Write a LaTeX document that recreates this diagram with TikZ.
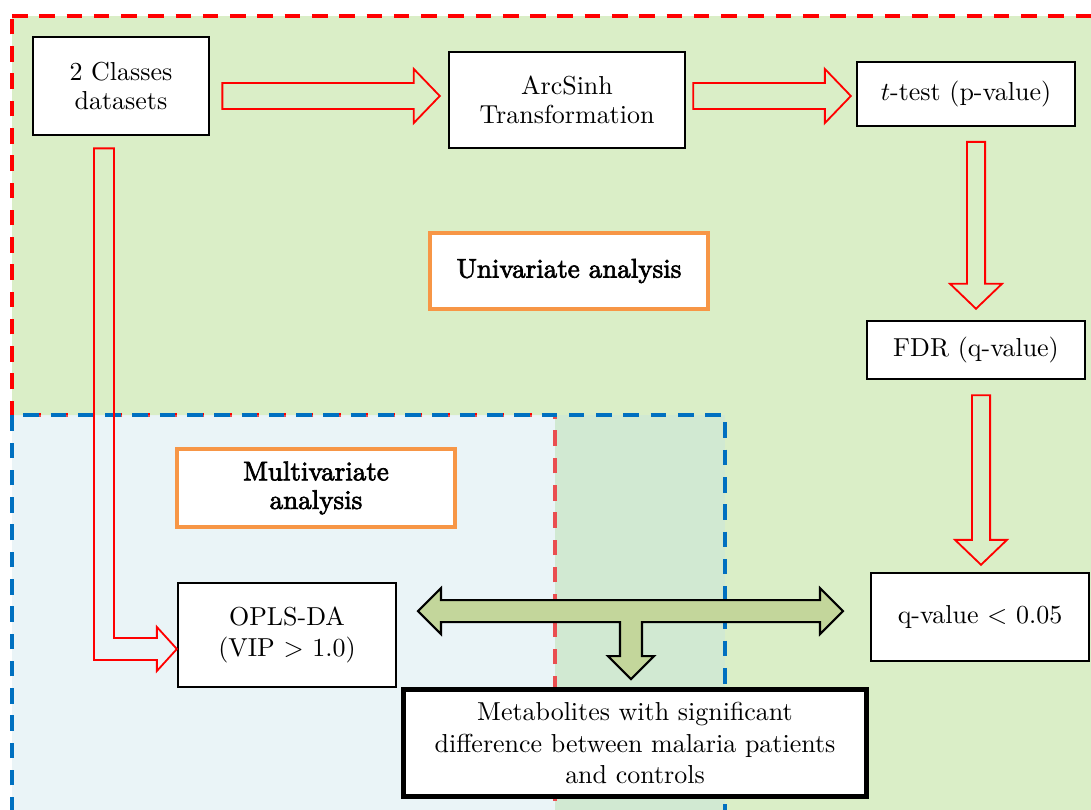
\documentclass[tikz,border=0pt]{standalone}
\usepackage{fontspec}
\newfontfamily\titlefont[Extension=.otf, FakeBold=2.6]{lmroman10-regular}
\usetikzlibrary{calc,positioning}
\definecolor{univgreen}{RGB}{218,238,199}
\definecolor{multiblue}{RGB}{195,224,232}
\definecolor{framered}{RGB}{255,0,0}
\definecolor{frameblue}{RGB}{0,112,192}
\definecolor{labelorange}{RGB}{247,150,70}
\definecolor{arrowolive}{RGB}{195,214,155}

\tikzset{
  stepbox/.style={draw=black, line width=0.8pt, fill=white, align=center, inner sep=2pt},
  titlebox/.style={draw=labelorange, line width=1.6pt, fill=white, align=center,
    font=\titlefont\fontsize{10.4}{12}\selectfont},
  hollow/.style={draw=framered, line width=0.7pt, line join=miter},
  regionline/.style={line width=1.2pt, dash pattern=on 6pt off 4.5pt},
}

% hollow block arrows from tail #1 to tip #2
\newcommand{\hollowright}[2]{%
  \draw[hollow] let \p1=#1, \p2=#2 in
    (\x1,\y1+5pt) -- (\x2-10pt,\y1+5pt) -- (\x2-10pt,\y1+10.4pt) -- (\x2,\y1)
    -- (\x2-10pt,\y1-10.4pt) -- (\x2-10pt,\y1-5pt) -- (\x1,\y1-5pt) -- cycle;}
\newcommand{\hollowdown}[2]{%
  \draw[hollow] let \p1=#1, \p2=#2 in
    (\x1-3.5pt,\y1) -- (\x1-3.5pt,\y2+9.6pt) -- (\x1-10pt,\y2+9.6pt) -- (\x1,\y2)
    -- (\x1+10pt,\y2+9.6pt) -- (\x1+3.5pt,\y2+9.6pt) -- (\x1+3.5pt,\y1) -- cycle;}

\begin{document}
\begin{tikzpicture}[x=0.385pt, y=-0.385pt]
  \useasboundingbox (0,0) rectangle (1091,810);
  \clip (0,0) rectangle (1091,810);

  % Regions
  \filldraw[fill=univgreen, draw=framered, regionline]
    (12,16) -- (1120,16) -- (1120,840) -- (555,840) -- (555,415) -- (12,415) -- cycle;
  \fill[multiblue, fill opacity=0.35] (12,415) rectangle (725,840);
  \draw[frameblue, regionline] (12,840) -- (12,415) -- (725,415) -- (725,840);

  % Steps
  \node[stepbox, minimum width=68pt, minimum height=38pt] (cls) at (121,86)
    {2 Classes\\[-1pt] datasets};
  \node[stepbox, minimum width=91pt, minimum height=37pt] (arc) at (567,100)
    {ArcSinh\\[-1pt] Transformation};
  \node[stepbox, minimum width=84pt, minimum height=24.5pt] (ttest) at (966,94)
    {$t$-test (p-value)};
  \node[stepbox, minimum width=84pt, minimum height=22.5pt] (fdr) at (976,350)
    {FDR (q-value)};
  \node[stepbox, minimum width=84pt, minimum height=34pt] (qval) at (980,617)
    {q-value < 0.05};
  \node[stepbox, minimum width=84pt, minimum height=40pt] (opls) at (287,635)
    {OPLS-DA\\ (VIP > 1.0)};
  \node[stepbox, line width=2pt, minimum width=178pt, minimum height=41pt] (meta) at (635,743)
    {Metabolites with significant\\ difference between malaria patients\\ and controls};

  % Titles
  \node[titlebox, minimum width=107pt, minimum height=29pt] (univ) at (569,271)
    {Univariate analysis};
  \node[titlebox, minimum width=107pt, minimum height=30pt] (multi) at (316,488)
    {Multivariate\\[-1pt] analysis};

  % Univariate chain
  \hollowright{($(cls.east)+(12,10)$)}{($(arc.west)+(-8,0)$)}
  \hollowright{($(arc.east)+(7,-4)$)}{($(ttest.west)+(-5,0)$)}
  \hollowdown{($(ttest.south)+(10,15)$)}{($(fdr.north)+(0,-11)$)}
  \hollowdown{($(fdr.south)+(5,15)$)}{($(qval.north)+(1,-7)$)}

  % Multivariate branch
  \coordinate (ltail) at ($(cls.south)+(-17,12)$);
  \coordinate (ltip) at ($(opls.west)+(0,14)$);
  \draw[hollow] (ltail) ++(-10,0) |- ($(ltip)+(-20,11)$) -- ++(0,11) -- (ltip)
    -- ++(-20,-22) -- ++(0,11) -| ($(ltail)+(10,0)$) -- cycle;

  % Combined result
  \coordinate (hub) at ($(meta.north)+(-4,-76)$);
  \draw[fill=arrowolive, draw=black, line width=0.8pt, line join=miter]
    (hub) ++(-213,0) -- ++(23,-23) -- ++(0,12) -- ++(379,0) -- ++(0,-12)
    -- ++(23,23) -- ++(-23,23) -- ++(0,-12) -- ++(-178,0) -- ++(0,34)
    -- ++(12,0) -- ++(-23,23) -- ++(-23,-23) -- ++(12,0) -- ++(0,-34)
    -- ++(-179,0) -- ++(0,12) -- cycle;
\end{tikzpicture}
\end{document}
